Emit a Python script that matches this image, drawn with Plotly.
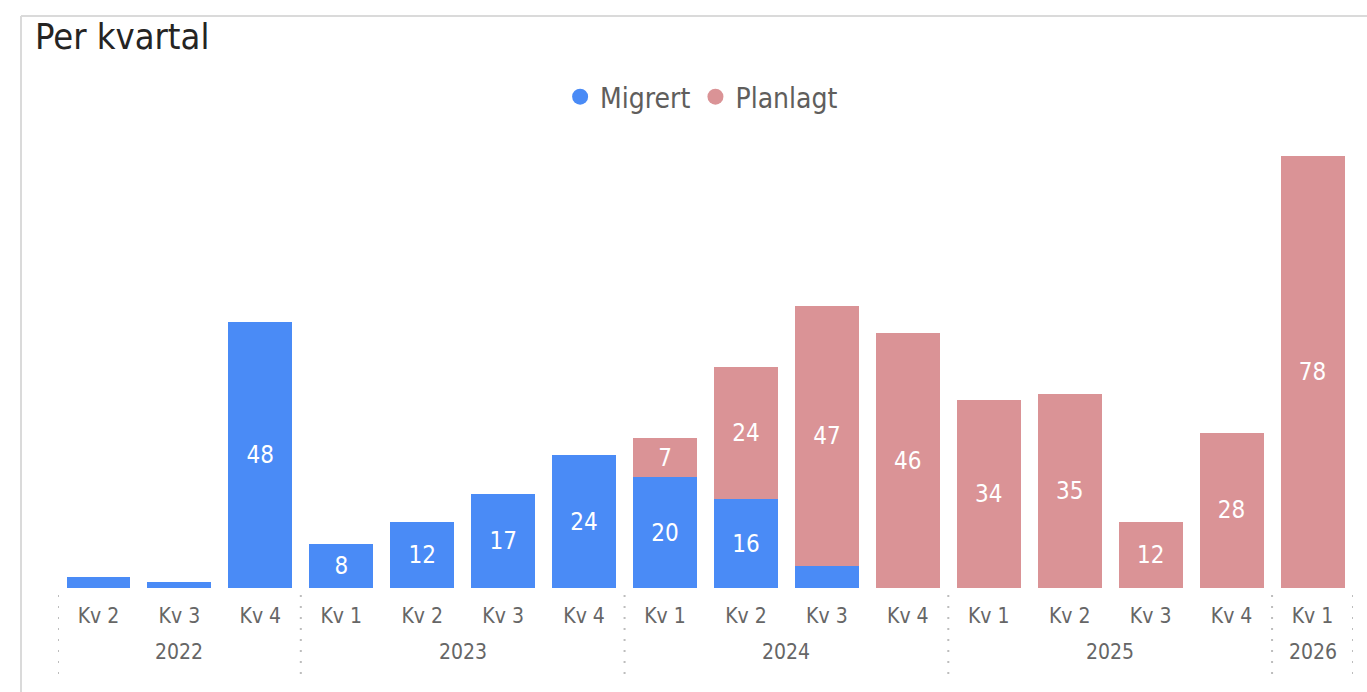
import plotly.graph_objects as go

years = ["2022", "2022", "2022",
         "2023", "2023", "2023", "2023",
         "2024", "2024", "2024", "2024",
         "2025", "2025", "2025", "2025",
         "2026"]
quarters = ["Kv 2", "Kv 3", "Kv 4",
            "Kv 1", "Kv 2", "Kv 3", "Kv 4",
            "Kv 1", "Kv 2", "Kv 3", "Kv 4",
            "Kv 1", "Kv 2", "Kv 3", "Kv 4",
            "Kv 1"]
migrert = [2, 1, 48, 8, 12, 17, 24, 20, 16, 4, None, None, None, None, None, None]
planlagt = [None, None, None, None, None, None, None, 7, 24, 47, 46, 34, 35, 12, 28, 78]

BLUE = "#4A8BF6"
PINK = "#DA9396"
FONT = "DejaVu Sans Condensed, DejaVu Sans, sans-serif"
LABEL_MIN = 5


def labels(vals):
    return [str(v) if (v is not None and v >= LABEL_MIN) else "" for v in vals]


keys = [f"{y} {q}" for y, q in zip(years, quarters)]

fig = go.Figure()
fig.add_trace(go.Bar(
    x=keys, y=migrert, name="Migrert", marker=dict(color=BLUE, line=dict(width=0)),
    text=labels(migrert), textposition="inside", insidetextanchor="middle",
    textfont=dict(color="white", size=24, family=FONT), showlegend=False,
    hoverinfo="y+name",
))
fig.add_trace(go.Bar(
    x=keys, y=planlagt, name="Planlagt", marker=dict(color=PINK, line=dict(width=0)),
    text=labels(planlagt), textposition="inside", insidetextanchor="middle",
    textfont=dict(color="white", size=24, family=FONT), showlegend=False,
    hoverinfo="y+name",
))
# legend entries with round markers
for nm, col in (("Migrert", BLUE), ("Planlagt", PINK)):
    fig.add_trace(go.Scatter(
        x=[keys[0]], y=[None], mode="markers", name=nm,
        marker=dict(color=col, size=22, symbol="circle"), hoverinfo="skip",
    ))

W, H = 1367, 692
L, R, T, B = 58, 14, 145, 104
pw = W - L - R
ph = H - T - B
n = len(keys)
base = H - B  # pixel row of the baseline


def py(pix):
    """pixel row -> paper y"""
    return (base - pix) / ph


shapes = []
annotations = []
# group boundaries
bounds = [0]
for i in range(1, n):
    if years[i] != years[i - 1]:
        bounds.append(i)
bounds.append(n)
for b in bounds:
    shapes.append(dict(type="line", xref="x", yref="paper",
                       x0=b - 0.5, x1=b - 0.5, y0=py(595), y1=py(676),
                       line=dict(color="#BDBDBD", width=2, dash="2px,9px")))
for a, b in zip(bounds[:-1], bounds[1:]):
    annotations.append(dict(x=(a + b - 1) / 2, xref="x", y=py(652), yref="paper",
                            text=years[a], showarrow=False, yanchor="middle",
                            font=dict(family=FONT, size=21, color="#666666")))
# visual frame (left and top border)
fx = (21 - L) / pw
fy = py(16)
shapes.append(dict(type="line", xref="paper", yref="paper", x0=fx, x1=fx,
                   y0=py(H + 5), y1=fy, line=dict(color="#DADADA", width=2)))
shapes.append(dict(type="line", xref="paper", yref="paper", x0=fx, x1=(W + 5 - L) / pw,
                   y0=fy, y1=fy, line=dict(color="#DADADA", width=2)))

fig.update_layout(
    width=W, height=H,
    margin=dict(l=L, r=R, t=T, b=B, autoexpand=False),
    paper_bgcolor="white", plot_bgcolor="white",
    barmode="stack", bargap=0.21,
    title=dict(text="Per kvartal", x=35 / W, xref="container", xanchor="left",
               y=1 - 36 / H, yref="container", yanchor="middle",
               font=dict(family=FONT, size=36, color="#252423")),
    legend=dict(orientation="h", x=0.497, xanchor="center", y=py(97),
                yanchor="middle", font=dict(family=FONT, size=28, color="#605E5C"),
                itemsizing="trace", traceorder="normal", bgcolor="rgba(0,0,0,0)",
                itemwidth=30),
    xaxis=dict(type="category", tickvals=keys, ticktext=quarters,
               showline=False, ticks="", showgrid=False, ticklabelstandoff=13,
               range=[-0.5, n - 0.5],
               tickfont=dict(family=FONT, size=21, color="#666666")),
    yaxis=dict(visible=False, range=[0, 80], showgrid=False, zeroline=False),
    shapes=shapes,
    annotations=annotations,
    font=dict(family=FONT),
)

fig.write_html("out.html", config={"displayModeBar": False},
               post_script="document.body.style.margin='0';document.body.style.overflow='hidden';")
